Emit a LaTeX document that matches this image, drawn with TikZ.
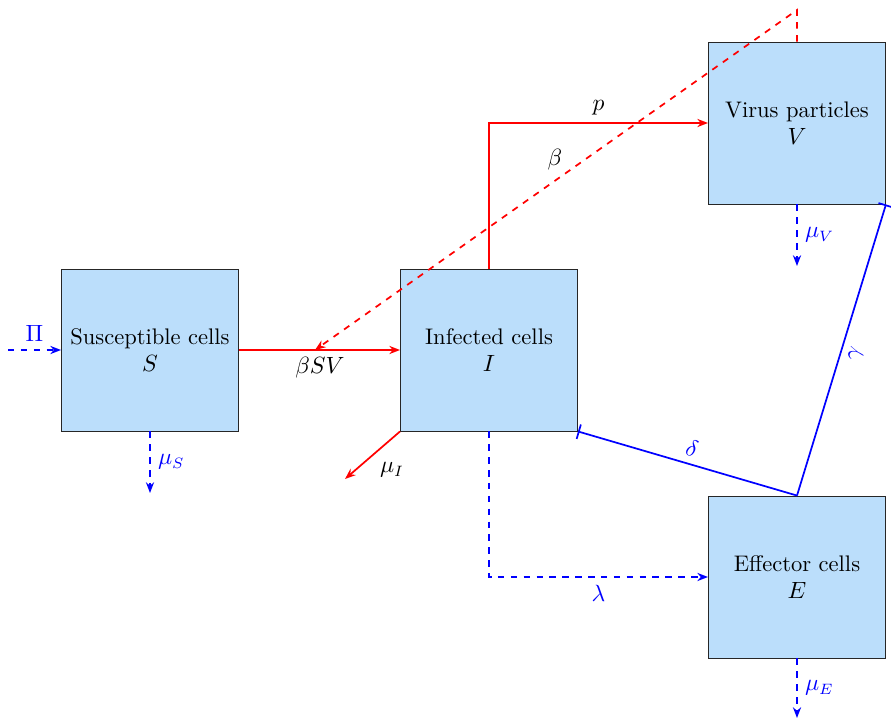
\documentclass[tikz,border=0pt]{standalone}
\usetikzlibrary{arrows.meta}
\definecolor{boxfill}{RGB}{187,222,251}
\begin{document}
\begin{tikzpicture}[x=0.466pt,y=-0.466pt,
  every node/.style={font=\fontsize{10.5}{12.8}\selectfont},
  box/.style={draw=black!85,fill=boxfill,minimum width=82.5pt,minimum height=75.5pt,align=center,inner sep=0pt},
  redline/.style={draw=red,thick,-{Stealth[length=5pt,width=3.8pt]}},
  blueline/.style={draw=blue,thick,-{Stealth[length=5pt,width=3.8pt]}},
  inhib/.style={draw=blue,thick,-{Bar[width=7pt]}}]
\useasboundingbox (0,0) rectangle (891,718);
\node[box] (S) at (150,350) {Susceptible cells\\ $S$};
\node[box] (I) at (489,350) {Infected cells\\ $I$};
\node[box] (V) at (797,123) {Virus particles\\ $V$};
\node[box] (E) at (797,577) {Effector cells\\ $E$};
\coordinate (pin) at (8,350);
\coordinate (sv) at (315,350);
\coordinate (top) at (797,10);
\coordinate (corner1) at (489,123);
\coordinate (corner2) at (489,577);
\coordinate (muI) at (345,479);
\coordinate (muS) at (150,493);
\coordinate (muV) at (797,266);
\coordinate (muE) at (797,718);
% inflow
\draw[blueline,dashed] (pin) -- node[above,text=blue]{$\Pi$} (S.west);
% infection
\draw[redline] (S.east) -- (I.west);
\node (bsv) at (320,368) {$\beta SV$};
\draw[redline,dashed] (V.north) -- (top) -- (sv);
\node (beta) at (555,160) {$\beta$};
% production
\draw[redline] (I.north) -- (corner1) -- node[above]{$p$} (V.west);
% death of I
\draw[redline] (I.south west) -- (muI);
\node (muIl) at (392,470) {$\mu_I$};
% lambda
\draw[blueline,dashed] (I.south) -- (corner2) -- node[below,text=blue]{$\lambda$} (E.west);
% deaths
\draw[blueline,dashed] (S.south) -- node[right,text=blue]{$\mu_S$} (muS);
\draw[blueline,dashed] (V.south) -- node[right,text=blue]{$\mu_V$} (muV);
\draw[blueline,dashed] (E.south) -- node[right,text=blue]{$\mu_E$} (muE);
% inhibitions
\draw[inhib] (E.north) -- node[sloped,above,text=blue]{$\delta$} (I.south east);
\draw[inhib] (E.north) -- node[sloped,below,text=blue]{$\gamma$} (V.south east);
\end{tikzpicture}
\end{document}
